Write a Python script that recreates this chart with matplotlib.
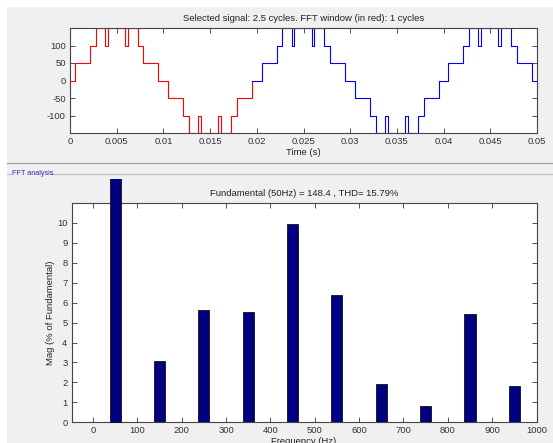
import matplotlib.pyplot as plt
import matplotlib.transforms as mtransforms
from matplotlib.lines import Line2D
from matplotlib.patches import Rectangle
from matplotlib.ticker import FormatStrFormatter

plt.rcParams['font.family'] = ['Liberation Sans Narrow', 'Liberation Sans', 'DejaVu Sans']
plt.rcParams['axes.unicode_minus'] = False

# inverter output: switching instants (ms) and the level held after each one
sw_t_ms = [0, 0.53, 2.14, 2.75, 3.72, 4.02, 5.86, 6.16, 7.24, 7.85, 9.46,
           10.53, 12.10, 12.75, 13.72, 14.02, 15.86, 16.16, 17.24, 17.85, 19.46,
           20.53, 22.12, 22.74, 23.72, 24.02, 25.86, 26.16, 27.24, 27.85, 29.46,
           30.55, 32.12, 32.76, 33.72, 34.02, 35.86, 36.16, 37.27, 37.85, 39.50,
           40.50, 42.12, 42.74, 43.72, 44.02, 45.86, 46.16, 47.24, 47.85, 49.50]
sw_lvl = [0, 50, 100, 150, 100, 150, 100, 150, 100, 50, 0,
          -50, -100, -150, -100, -150, -100, -150, -100, -50, 0,
          50, 100, 150, 100, 150, 100, 150, 100, 50, 0,
          -50, -100, -150, -100, -150, -100, -150, -100, -50, 0,
          50, 100, 150, 100, 150, 100, 150, 100, 50, 0]
t_stop_ms = 50.0
window_end_ms = 19.46

# harmonic spectrum (% of fundamental)
harm_freq = [0, 50, 100, 150, 200, 250, 300, 350, 400, 450,
             500, 550, 600, 650, 700, 750, 800, 850, 900, 950]
harm_mag = [0.04, 100.0, 0.04, 3.08, 0.04, 5.62, 0.04, 5.55, 0.04, 9.95,
            0.04, 6.40, 0.04, 1.93, 0.04, 0.82, 0.04, 5.42, 0.04, 1.80]
fund_amp = 148.4
thd_pct = 15.79

W, H = 553, 443
fig = plt.figure(figsize=(W / 100, H / 100), dpi=100, facecolor='#f0f0f0')

# white border strips and panel separators
fig.patches.append(Rectangle((0, 1 - 7 / H), 1, 7 / H, transform=fig.transFigure,
                             facecolor='white', edgecolor='none'))
fig.patches.append(Rectangle((0, 0), 7 / W, 1, transform=fig.transFigure,
                             facecolor='white', edgecolor='none'))
fig.add_artist(Line2D([7 / W, 1], [1 - 162.5 / H] * 2, color='#a0a0a0', lw=0.9))
fig.add_artist(Line2D([7 / W, 11 / W], [1 - 173.5 / H] * 2, color='#c0c0c0', lw=0.9))
fig.add_artist(Line2D([51 / W, 1], [1 - 173.5 / H] * 2, color='#c0c0c0', lw=0.9))
fig.text(12 / W, 1 - 173.5 / H, 'FFT analysis', color='#2a2ab0', fontsize=5.2, va='center')

tick_kw = dict(direction='in', top=True, right=True, length=3.5, width=0.6,
               colors='#333333', labelsize=6.8, pad=3)

# ---- time signal ----
ax1 = fig.add_axes([70 / W, 1 - 133 / H, 467 / W, 105 / H])
t = [v / 1000 for v in sw_t_ms] + [t_stop_ms / 1000]
y = sw_lvl + [sw_lvl[-1]]
k = sw_t_ms.index(window_end_ms)
ax1.step(t[:k + 1], y[:k + 1], where='post', color='#ff0000', lw=0.8)
ax1.step(t[k:], y[k:], where='post', color='#0000ff', lw=0.8)
ax1.set_xlim(0, 0.05)
ax1.set_ylim(-150, 150)
ax1.set_xticks([i * 0.005 for i in range(11)])
ax1.set_yticks([-100, -50, 0, 50, 100])
ax1.xaxis.set_major_formatter(FormatStrFormatter('%g'))
ax1.tick_params(**tick_kw)
ax1.set_title('Selected signal: 2.5 cycles. FFT window (in red): 1 cycles',
              fontsize=6.8, color='#222222', pad=5)
ax1.set_xlabel('Time (s)', fontsize=6.8, color='#222222')
ax1.xaxis.set_label_coords(0.5, -0.14)
for s in ax1.spines.values():
    s.set_color('#444444')
    s.set_linewidth(0.8)

# ---- FFT bars ----
ax2 = fig.add_axes([71.7 / W, 1 - 422.3 / H, 464.8 / W, 219.3 / H])
bars = ax2.bar(harm_freq, harm_mag, width=25, color='#000080', edgecolor='#111111',
               lw=0.6, zorder=3)
# fundamental runs past the top of the axes up to the panel border
bars[1].set_clip_box(mtransforms.TransformedBbox(
    mtransforms.Bbox.from_extents(0, 0, 1, 1 - 179 / H), fig.transFigure))
ax2.set_xlim(-48, 1000)
ax2.set_ylim(0, 11)
ax2.set_xticks(range(0, 1001, 100))
ax2.set_yticks(range(0, 11))
ax2.tick_params(**tick_kw)
ax2.set_title(f'Fundamental (50Hz) = {fund_amp} , THD= {thd_pct}%',
              fontsize=6.8, color='#222222', pad=5)
ax2.set_xlabel('Frequency (Hz)', fontsize=6.8, color='#222222')
ax2.xaxis.set_label_coords(0.5, -0.065)
ax2.set_ylabel('Mag (% of Fundamental)', fontsize=6.8, color='#222222')
ax2.yaxis.set_label_coords(-0.037, 0.5)
for s in ax2.spines.values():
    s.set_color('#444444')
    s.set_linewidth(0.8)

fig.savefig('out.png', dpi=100, facecolor=fig.get_facecolor())
